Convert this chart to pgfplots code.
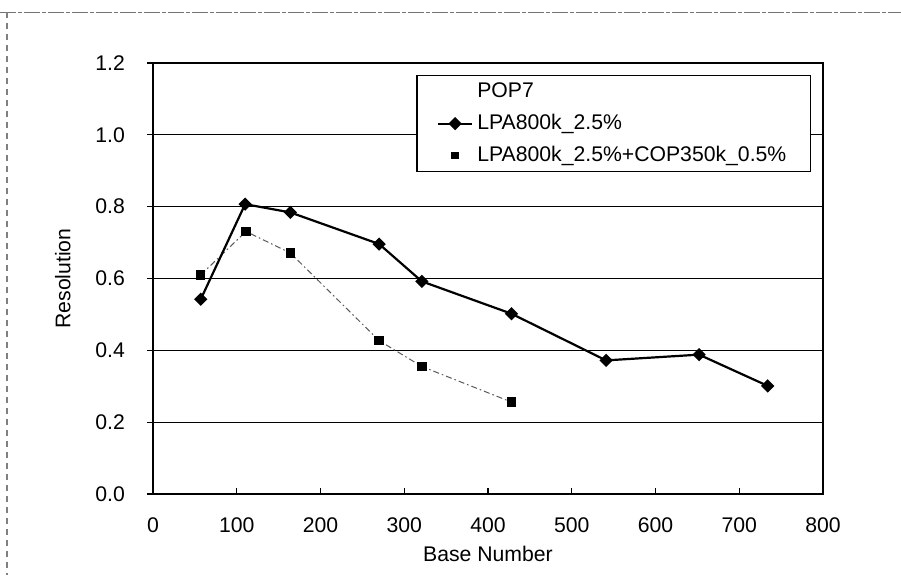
\documentclass[border=0pt]{standalone}
\usepackage{fontspec}
\setmainfont{Liberation Sans}
\usepackage{pgfplots}
\pgfplotsset{compat=1.18}
\begin{document}
\begin{tikzpicture}[x=1pt,y=1pt]
\useasboundingbox (0,0) rectangle (450.5,287.5);
\draw[black!55, dash pattern=on 8pt off 1pt on 2pt off 1pt, line width=0.5pt] (0,281.5) -- (450.5,281.5);
\draw[black!50, dash pattern=on 3pt off 2.5pt, line width=0.6pt] (3.5,281.5) -- (3.5,0);
\begin{axis}[
  at={(76.5pt,40.5pt)}, anchor=south west,
  scale only axis, width=335pt, height=215.5pt,
  xmin=0, xmax=800, ymin=0, ymax=1.2,
  xtick={0,100,200,300,400,500,600,700,800},
  ytick={0,0.2,0.4,0.6,0.8,1.0,1.2},
  xtick pos=bottom, ytick pos=left,
  xtick align=inside, ytick align=outside,
  major tick length=3pt,
  tick style={black, line width=0.6pt},
  axis line style={black, line width=0.6pt},
  ymajorgrids, grid style={black, line width=0.6pt},
  /pgf/number format/assume math mode=true,
  yticklabel style={/pgf/number format/fixed, /pgf/number format/fixed zerofill, /pgf/number format/precision=1, xshift=-7.5pt},
  xticklabel style={/pgf/number format/fixed, /pgf/number format/precision=0, yshift=-8.5pt},
  ticklabel style={font=\fontsize{10.6}{12}\selectfont},
  xlabel={Base Number}, ylabel={Resolution},
  label style={font=\fontsize{10.6}{12}\selectfont},
  xlabel style={at={(axis description cs:0.5,-0.14)}, anchor=center},
  ylabel style={at={(axis description cs:-0.1345,0.5)}, anchor=center},
  legend cell align=left,
  legend style={at={(0.982,0.972)}, anchor=north east, draw=black, line width=0.6pt,
    font=\fontsize{10.6}{12}\selectfont, inner xsep=10pt, inner ysep=1pt, row sep=2pt,
    nodes={text height=7.8pt, text depth=2.2pt}},
]
\addlegendimage{empty legend}
\addlegendentry{POP7}
\addlegendimage{black, line width=1.1pt, mark=square*, mark size=1.8pt, mark options={rotate=45, solid}}
\addlegendentry{LPA800k\_2.5\%}
\addlegendimage{only marks, black, mark=square*, mark size=1.6pt}
\addlegendentry{LPA800k\_2.5\%+COP350k\_0.5\%}

\addplot[forget plot, black!65, line width=0.5pt, dash pattern=on 3pt off 1.5pt on 0.8pt off 1.5pt,
  mark=square*, mark size=2.1pt, mark options={solid, fill=black, draw=black}]
  coordinates {(57,0.610) (111,0.731) (164,0.671) (270,0.427) (321,0.355) (428,0.256)};
\addplot[forget plot, black, line width=1.1pt, mark=square*, mark size=1.8pt, mark options={rotate=45, solid}]
  coordinates {(57,0.542) (110,0.807) (164,0.784) (270,0.696) (321,0.592) (428,0.502) (541,0.372) (652,0.388) (734,0.301)};
\end{axis}
\end{tikzpicture}
\end{document}
